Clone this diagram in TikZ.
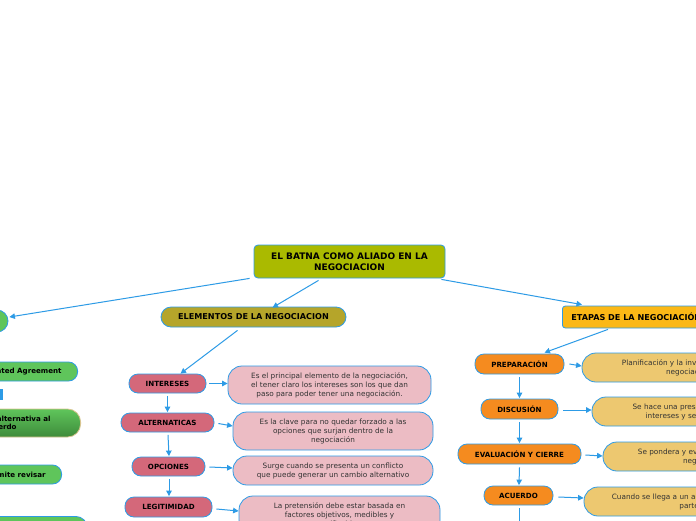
\documentclass[tikz,border=0pt]{standalone}
\usepackage{fontspec}
\setmainfont{DejaVu Sans}
\usetikzlibrary{calc,arrows.meta}
\definecolor{cblue}{HTML}{2D9BE6}
\definecolor{rootc}{HTML}{AABA00}
\definecolor{elemc}{HTML}{B5A52A}
\definecolor{etapc}{HTML}{FBB816}
\definecolor{pinkl}{HTML}{D4687A}
\definecolor{pinkd}{HTML}{ECBCC4}
\definecolor{orangel}{HTML}{F58B1F}
\definecolor{goldd}{HTML}{EDC870}
\definecolor{greenc}{HTML}{5FC55B}
\definecolor{greendk}{HTML}{3E8B3B}
\definecolor{tanb}{HTML}{D9C48F}
\definecolor{txt}{HTML}{333333}
\begin{document}
\begin{tikzpicture}[x=1pt,y=-1pt,
  box/.style={draw=cblue, line width=0.8pt, inner sep=0pt, align=center},
  lab/.style={box, rounded corners=9pt, font=\fontsize{7.1}{8}\selectfont\bfseries, text=black},
  pinklab/.style={lab, fill=pinkl},
  orlab/.style={lab, fill=orangel},
  desc/.style={box, rounded corners=14pt, font=\fontsize{7.3}{9}\selectfont, text=txt},
  pinkdesc/.style={desc, fill=pinkd},
  golddesc/.style={desc, fill=goldd},
  greenbox/.style={box, fill=greenc, rounded corners=9pt, font=\fontsize{7.1}{8}\selectfont\bfseries, text=black},
  conn/.style={draw=cblue, line width=1pt, -{Triangle[length=5.5pt,width=5.5pt]}}
]
\useasboundingbox (0,0) rectangle (696,520);
\clip (0,0) rectangle (696,520);
\fill[white] (0,0) rectangle (696,520);

% root and main branches
\node[box, fill=rootc, rounded corners=4pt, minimum width=191, minimum height=33,
  font=\fontsize{9}{10.5}\selectfont\bfseries] (root) at (349.5,261.5)
  {EL BATNA COMO ALIADO EN LA\\NEGOCIACION};
\node[box, fill=elemc, rounded corners=10pt, minimum width=185, minimum height=20,
  font=\fontsize{8.1}{9}\selectfont\bfseries] (elem) at (253.5,317) {ELEMENTOS DE LA NEGOCIACION};
\node[box, fill=etapc, rounded corners=3pt, minimum height=22, inner xsep=9pt, anchor=west,
  font=\fontsize{8.1}{9}\selectfont\bfseries] (etap) at (562,317) {ETAPAS DE LA NEGOCIACIÓN};
\node[greenbox, minimum width=96, minimum height=22, rounded corners=11pt] (lg) at (-40,321) {};

\draw[conn] ($(root.south west)+(-4,0)$) -- ($(lg.east)+(1,-4)$);
\draw[conn] ($(root.south)+(-31,2)$) -- ($(elem.north)+(19,1)$);
\draw[conn] ($(root.south east)+(-4,1)$) -- ($(etap.north west)+(20,-1)$);

% left column (green)
\node[greenbox, minimum height=19, inner xsep=16pt, anchor=east] (g1) at (78,371.5)
  {Best Alternative to a Negotiated Agreement};
\fill[cblue] (0,389) rectangle (3,400);
\node[box, draw=tanb, top color=greenc, bottom color=greendk, rounded corners=13pt,
  minimum height=28, inner xsep=30pt, anchor=east, align=center,
  font=\fontsize{7.1}{7.5}\selectfont\bfseries, text=black] (g2) at (81,423)
  {Es la mejor alternativa al\\acuerdo};
\node[greenbox, minimum height=19, inner xsep=16pt, anchor=east] (g3) at (62,474.5) {Permite revisar};
\node[greenbox, minimum width=120, minimum height=24, rounded corners=12pt, anchor=north east] (g4) at (88,516) {};

% elementos column
\node[pinklab, minimum width=77, minimum height=19] (int) at (167.5,383.5) {INTERESES};
\node[pinklab, minimum width=93, minimum height=19] (alt) at (167.5,422.5) {ALTERNATICAS};
\node[pinklab, minimum width=73, minimum height=19] (opc) at (168.5,466.5) {OPCIONES};
\node[pinklab, minimum width=87, minimum height=20] (leg) at (168.5,507) {LEGITIMIDAD};

\node[pinkdesc, minimum width=203, minimum height=38] (d1) at (329.5,385)
  {Es el principal elemento de la negociación,\\el tener claro los intereses son los que dan\\paso para poder tener una negociación.};
\node[pinkdesc, minimum width=200, minimum height=38] (d2) at (333,431)
  {Es la clave para no quedar forzado a las\\opciones que surjan dentro de la\\negociación};
\node[pinkdesc, minimum width=200, minimum height=29] (d3) at (333,470.5)
  {Surge cuando se presenta un conflicto\\que puede generar un cambio alternativo};
\node[pinkdesc, minimum width=201, minimum height=38] (d4) at (339.5,515)
  {La pretensión debe estar basada en\\factores objetivos, medibles y\\verificables};

\draw[conn] ($(elem.south)+(-16,3)$) -- ($(int.north)+(13,0)$);
\draw[conn] ($(int.south)+(0,2.5)$) -- ($(alt.north)+(0,-0.5)$);
\draw[conn] ($(alt.south)+(0.5,2.5)$) -- ($(opc.north)+(0.5,-0.5)$);
\draw[conn] ($(opc.south)+(0.5,2.5)$) -- ($(leg.north)+(0.5,-0.5)$);
\draw[conn] ($(int.east)+(3,0)$) -- ($(d1.west)+(0,-1.5)$);
\draw[conn] ($(alt.east)+(4,1)$) -- ($(d2.west)+(0,-5)$);
\draw[conn] ($(opc.east)+(4,0.5)$) -- ($(d3.west)+(0,-2.5)$);
\draw[conn] ($(leg.east)+(4,2)$) -- ($(d4.west)+(0,-4)$);

% etapas column
\node[orlab, minimum width=89, minimum height=20] (prep) at (519.5,364) {PREPARACIÓN};
\node[orlab, minimum width=77, minimum height=20] (disc) at (519.5,409) {DISCUSIÓN};
\node[orlab, minimum width=123, minimum height=20] (eval) at (519.5,454) {EVALUACIÓN Y CIERRE};
\node[orlab, minimum width=69, minimum height=19] (acue) at (518.5,495.5) {ACUERDO};
\coordinate (below) at (519,530);

\node[golddesc, minimum width=212, minimum height=29] (pd) at (688,367.5)
  {Planificación y la investigación de la\\negociación};
\node[golddesc, minimum width=200, minimum height=29] (dd) at (692,411.5)
  {Se hace una presentación de los\\intereses y se confrontan};
\node[golddesc, minimum width=204, minimum height=29] (ed) at (705,456.5)
  {Se pondera y evalúa lo logrado en la\\negociación};
\node[golddesc, minimum width=214, minimum height=29] (ad) at (691,501.5)
  {Cuando se llega a un acuerdo entre las dos\\partes};

\draw[conn] ($(etap.south west)+(46,1)$) -- ($(prep.north)+(25,-1)$);
\draw[conn] ($(prep.south)+(0,3)$) -- ($(disc.north)+(0,-0.5)$);
\draw[conn] ($(disc.south)+(0,3)$) -- ($(eval.north)+(0,-0.5)$);
\draw[conn] ($(eval.south)+(0,3)$) -- ($(acue.north)+(0.5,-0.5)$);
\draw[draw=cblue, line width=1pt] ($(acue.south)+(0.5,3)$) -- (below);
\draw[conn] ($(prep.east)+(5,0)$) -- ($(pd.west)+(0,-1.5)$);
\draw[conn] ($(disc.east)+(5,1)$) -- ($(dd.west)+(0,-1.5)$);
\draw[conn] ($(eval.east)+(4,1)$) -- ($(ed.west)+(0,-0.5)$);
\draw[conn] ($(acue.east)+(5,1.5)$) -- ($(ad.west)+(0,-3.5)$);
\end{tikzpicture}
\end{document}
